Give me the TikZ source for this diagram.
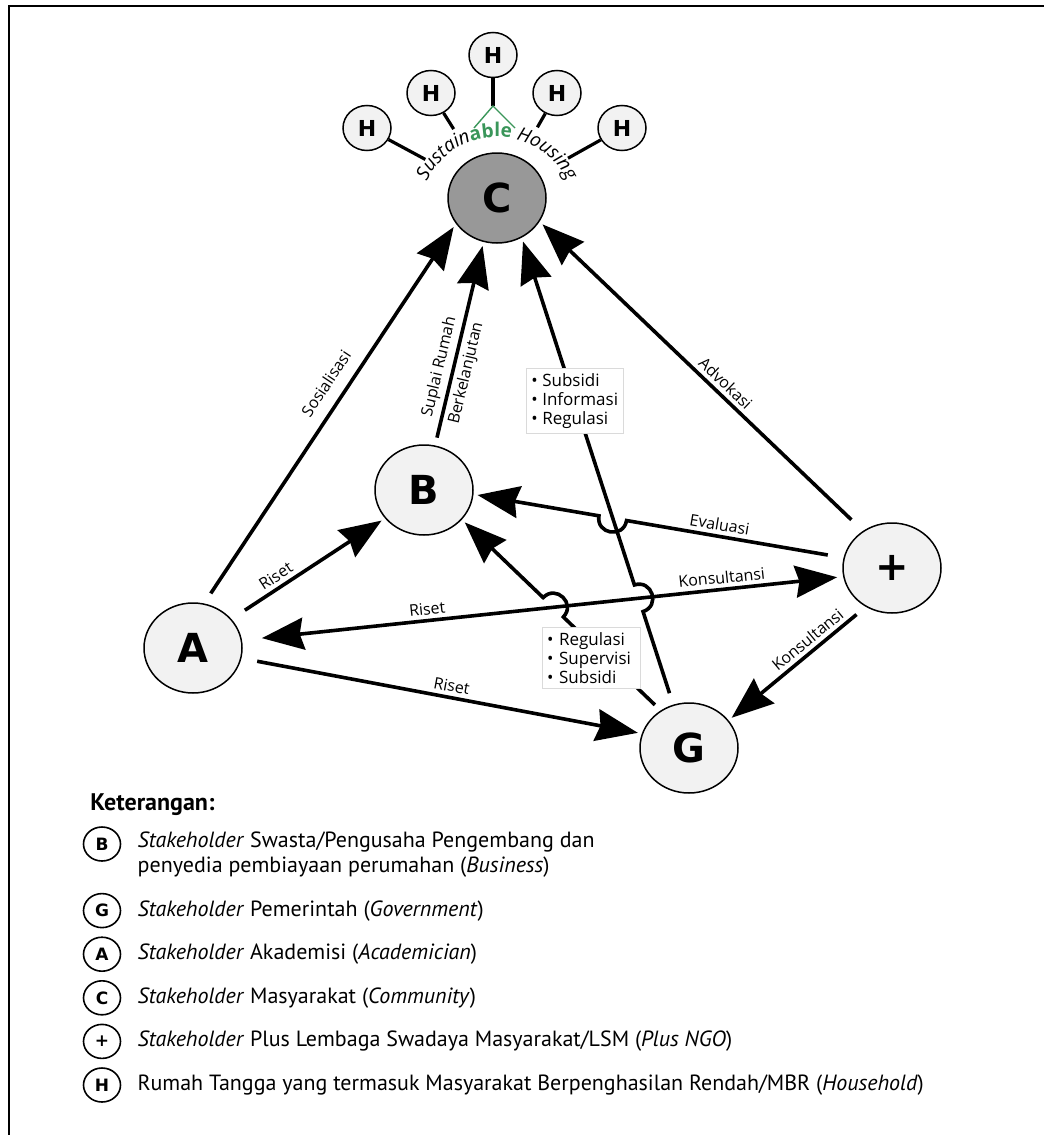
\documentclass[tikz,border=0pt]{standalone}
\usepackage{fontspec}
\setmainfont{Open Sans}
\newfontfamily\letterfont{DejaVu Sans}
\newfontfamily\keyfont{PT Sans}
\usepackage{tikz}
\usetikzlibrary{arrows.meta, positioning, shapes.geometric, calc, intersections, decorations.text}

\definecolor{nodefill}{RGB}{242,242,242}
\definecolor{commgray}{RGB}{152,152,152}
\definecolor{ablegreen}{RGB}{58,150,90}
\definecolor{boxline}{RGB}{218,218,218}

\newcommand{\lblsize}{\fontsize{8}{9.4}\selectfont}
\newcommand{\boxsize}{\fontsize{8.5}{9.4}\selectfont}
\newcommand{\arcsize}{\fontsize{9.5}{9.5}\selectfont}
\newcommand{\hopr}{7pt}
\newcommand{\hopc}{9.3pt}

\tikzset{
  actor/.style={ellipse, draw, line width=0.75pt, fill=nodefill, minimum width=49pt,
              minimum height=45pt, inner sep=0pt, font=\letterfont\bfseries\fontsize{20}{20}\selectfont},
  house/.style={ellipse, draw, line width=0.75pt, fill=nodefill, minimum width=24pt,
              minimum height=22.5pt, inner sep=0pt, font=\letterfont\bfseries\fontsize{11}{11}\selectfont},
  ring/.style={circle, draw=none, minimum size=81pt, inner sep=0pt},
  arrow/.style={-{Stealth[length=21pt, width=16pt, inset=2pt]}, line width=1.8pt,
              shorten <=6pt, shorten >=2pt},
  twoway/.style={arrow, {Stealth[length=21pt, width=16pt, inset=2pt]}-{Stealth[length=21pt, width=16pt, inset=2pt]}},
  link/.style={line width=1.6pt},
  lbl/.style={font=\lblsize, sloped, above, inner sep=2pt},
  listbox/.style={draw=boxline, fill=white, align=left, font=\boxsize, inner sep=2.5pt},
  key/.style={ellipse, draw, line width=0.8pt, minimum width=18.5pt, minimum height=17pt,
              inner sep=0pt, font=\letterfont\bfseries\fontsize{8.5}{8.5}\selectfont},
  keytext/.style={font=\keyfont\fontsize{11}{12.5}\selectfont, align=left, inner sep=1pt},
}

\begin{document}
\begin{tikzpicture}[x=0.5pt, y=0.5pt]
  \useasboundingbox (0,0) rectangle (1044,-1135);
  \draw[line width=1pt] (9,-1135) -- (9,-6) -- (1044,-6);

  % stakeholders
  \node[actor, fill=commgray] (c) at (497,-198) {C};
  \node[actor] (b) at (424,-490) {B};
  \node[actor] (a) at (193,-648) {A};
  \node[actor] (g) at (689,-748) {G};
  \node[actor] (p) at (892,-568) {+};

  % households around the community
  \node[house] (h1) at (367,-128) {H};
  \node[house] (h2) at (431,-93) {H};
  \node[house] (h3) at (493,-55) {H};
  \node[house] (h4) at (557,-93) {H};
  \node[house] (h5) at (622,-128) {H};
  \node[ring] (ring) at (c) {};
  \coordinate (apex) at (493,-106);
  \coordinate (caretl) at (474,-128);
  \coordinate (caretr) at (515,-128);
  \draw[link] (h1) -- (ring);
  \draw[link] (h2) -- (ring);
  \draw[link] (h3) -- (apex);
  \draw[link] (h4) -- (ring);
  \draw[link] (h5) -- (ring);
  \draw[ablegreen, line width=0.7pt] (caretl) -- (apex) -- (caretr);

  \coordinate (arcc) at (497,-215);
  \path[decorate, decoration={text along path, text align=center,
      text={|\normalfont\arcsize\itshape|Sustain|\normalfont\arcsize\bfseries\color{ablegreen}|able|\normalfont\arcsize\itshape\color{black}| Housing}}]
    ([shift={(160:78)}]arcc) arc[start angle=160, end angle=20, radius=78];

  % crossings get a small hop
  \path[name path=gcline] (g.110) -- (c.302);
  \path[name path=apline] (a.9) -- (p.190);
  \path[name path=pbline] (p.168) -- (b.355);
  \path[name path=gbline] (g.127) -- (b.322);
  \path[name intersections={of=gcline and apline, by=x1}];
  \path[name intersections={of=gcline and pbline, by=x2}];
  \path[name intersections={of=gbline and apline, by=x3}];
  \coordinate (x1a) at ($(x1)!\hopr!(g.110)$);
  \coordinate (x1b) at ($(x1)!\hopr!(c.302)$);
  \coordinate (x2a) at ($(x2)!\hopr!(p.168)$);
  \coordinate (x2b) at ($(x2)!\hopr!(b.355)$);
  \coordinate (x3a) at ($(x3)!\hopr!(g.127)$);
  \coordinate (x3b) at ($(x3)!\hopr!(b.322)$);

  \draw[arrow] (a.76) -- node[lbl, pos=0.55, inner sep=6pt] {Sosialisasi} (c.212);
  \draw[arrow, shorten <=4pt] (b.76) -- node[lbl, pos=0.37] {Suplai Rumah}
        node[lbl, below, pos=0.37] {Berkelanjutan} (c.253);
  \draw[arrow] (g.110) -- (x1a)
        .. controls ($(x1a)!\hopc!-90:(x1b)$) and ($(x1b)!\hopc!90:(x1a)$) .. (x1b) -- (c.302);
  \draw[arrow, shorten <=8pt] (p.128) -- node[lbl, pos=0.45] {Advokasi} (c.331);
  \draw[arrow, shorten <=8pt] (p.168) -- node[lbl, pos=0.58] {Evaluasi} (x2a)
        .. controls ($(x2a)!\hopc!90:(x2b)$) and ($(x2b)!\hopc!-90:(x2a)$) .. (x2b) -- (b.355);
  \draw[twoway, shorten <=10pt, shorten >=3pt] (a.9) -- node[lbl, pos=0.31] {Riset}
        node[lbl, pos=0.8] {Konsultansi} (p.190);
  \draw[arrow, shorten <=8pt] (a.37) -- node[lbl, pos=0.33] {Riset} (b.216);
  \draw[arrow, shorten <=8pt] (a.348) -- node[lbl, pos=0.52] {Riset} (g.163);
  \draw[arrow] (p.236) -- node[lbl, pos=0.37] {Konsultansi} (g.35);
  \draw[arrow, shorten <=4pt] (g.127) -- (x3a)
        .. controls ($(x3a)!\hopc!-90:(x3b)$) and ($(x3b)!\hopc!90:(x3a)$) .. (x3b) -- (b.322);

  \node[listbox] (govaid) at ($(g.110)!0.65!(c.302)$) {• Subsidi\\• Informasi\\• Regulasi};
  \node[listbox, text width=44pt] (govrule) at (591,-658) {• Regulasi\\• Supervisi\\• Subsidi};

  % legend
  \node[keytext, font=\keyfont\bfseries\fontsize{12}{12}\selectfont, anchor=west] (legend) at (88,-805) {Keterangan:};
  \node[key] (kb) at (102,-844) {B};
  \node[keytext, right=7pt of kb, yshift=-5.5pt] (tb)
        {\textit{Stakeholder} Swasta/Pengusaha Pengembang dan\\penyedia pembiayaan perumahan (\textit{Business})};
  \node[key, below=15.5pt of kb] (kg) {G};
  \node[keytext, right=7pt of kg] (tg) {\textit{Stakeholder} Pemerintah (\textit{Government})};
  \node[key, below=4pt of kg] (ka) {A};
  \node[keytext, right=7pt of ka] (ta) {\textit{Stakeholder} Akademisi (\textit{Academician})};
  \node[key, below=4pt of ka] (kc) {C};
  \node[keytext, right=7pt of kc] (tc) {\textit{Stakeholder} Masyarakat (\textit{Community})};
  \node[key, below=4pt of kc] (kp) {+};
  \node[keytext, right=7pt of kp] (tp) {\textit{Stakeholder} Plus Lembaga Swadaya Masyarakat/LSM (\textit{Plus NGO})};
  \node[key, below=4pt of kp] (kh) {H};
  \node[keytext, right=7pt of kh] (th) {Rumah Tangga yang termasuk Masyarakat Berpenghasilan Rendah/MBR (\textit{Household})};
\end{tikzpicture}
\end{document}
